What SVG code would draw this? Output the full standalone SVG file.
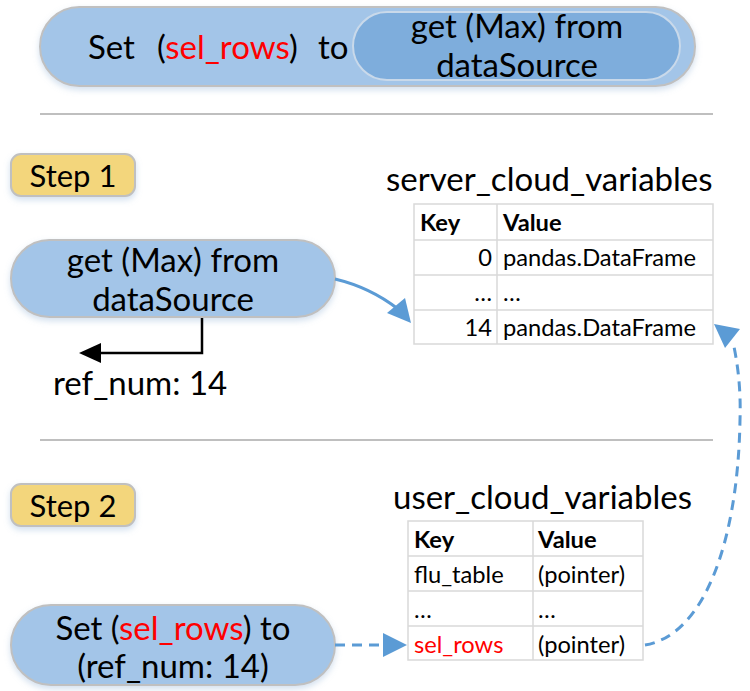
<svg xmlns="http://www.w3.org/2000/svg" width="750" height="691" viewBox="0 0 750 691">
<defs>
<style>
.t{font-family:Lato,"Liberation Sans",sans-serif;fill:#000}
.big{font-size:33px}
.pill{fill:#a3c5e8;stroke:#c0c0c0;stroke-width:2}
.step{fill:#f3d67c;stroke:#c0c0c0;stroke-width:2}
.sep{stroke:#bfbfbf;stroke-width:2}
.grid{fill:#fff;stroke:#d9d9d9;stroke-width:1.5}
.red{fill:#ff0000}
.blue{stroke:#5b9bd5;stroke-width:3;fill:none}
.dash{stroke-dasharray:10,7}
.tb{font-size:23.7px}
.st{font-size:31px}
</style>
<filter id="sh" x="-10%" y="-20%" width="120%" height="150%">
<feDropShadow dx="0" dy="3" stdDeviation="3" flood-color="#7fa6d0" flood-opacity="0.35"/>
</filter>
</defs>
<rect width="750" height="691" fill="#fff"/>

<g id="top-node">
<rect class="pill" x="40" y="7" width="655" height="79" rx="39.5" filter="url(#sh)"/>
<rect x="353" y="12" width="327" height="68" rx="34" fill="#7eaddc" stroke="#c9d9ea" stroke-width="2"/>
<text class="t big" x="88" y="59">Set</text>
<text class="t big" x="157" y="59">(<tspan class="red">sel_rows</tspan>)</text>
<text class="t big" x="318" y="59">to</text>
<text class="t big" x="517" y="38" text-anchor="middle">get (Max) from</text>
<text class="t big" x="517" y="77" text-anchor="middle">dataSource</text>
</g>

<line class="sep" x1="40" y1="114" x2="713" y2="114"/>
<line class="sep" x1="40" y1="440" x2="713" y2="440"/>

<g id="step1">
<rect class="step" x="11" y="154" width="124" height="42" rx="10" filter="url(#sh)"/>
<text class="t st" x="73" y="187" text-anchor="middle">Step 1</text>
</g>

<g id="get-node">
<rect class="pill" x="11" y="240" width="324" height="77" rx="38.5" filter="url(#sh)"/>
<text class="t big" x="173" y="272" text-anchor="middle">get (Max) from</text>
<text class="t big" x="173" y="311" text-anchor="middle">dataSource</text>
</g>

<g id="ref-num">
<text class="t big" x="53" y="395">ref_num: 14</text>
</g>

<g id="server-table">
<text class="t big" x="386" y="191">server_cloud_variables</text>
<rect class="grid" x="414" y="204" width="299" height="140"/>
<line class="grid" x1="497" y1="204" x2="497" y2="344"/>
<line class="grid" x1="414" y1="240" x2="713" y2="240"/>
<line class="grid" x1="414" y1="275" x2="713" y2="275"/>
<line class="grid" x1="414" y1="310" x2="713" y2="310"/>
<text class="t tb" x="420" y="231" font-weight="bold">Key</text>
<text class="t tb" x="503" y="231" font-weight="bold">Value</text>
<text class="t tb" x="492" y="266" text-anchor="end">0</text>
<text class="t tb" x="503" y="266">pandas.DataFrame</text>
<text class="t tb" x="492" y="301" text-anchor="end">…</text>
<text class="t tb" x="503" y="301">…</text>
<text class="t tb" x="492" y="336" text-anchor="end">14</text>
<text class="t tb" x="503" y="336">pandas.DataFrame</text>
</g>

<g id="step2">
<rect class="step" x="11" y="484" width="124" height="42" rx="10" filter="url(#sh)"/>
<text class="t st" x="73" y="517" text-anchor="middle">Step 2</text>
</g>

<g id="user-table">
<text class="t big" x="393" y="509">user_cloud_variables</text>
<rect class="grid" x="408" y="521" width="235" height="139"/>
<line class="grid" x1="533" y1="521" x2="533" y2="660"/>
<line class="grid" x1="408" y1="556" x2="643" y2="556"/>
<line class="grid" x1="408" y1="591" x2="643" y2="591"/>
<line class="grid" x1="408" y1="626" x2="643" y2="626"/>
<text class="t tb" x="414" y="548" font-weight="bold">Key</text>
<text class="t tb" x="538" y="548" font-weight="bold">Value</text>
<text class="t tb" x="414" y="583">flu_table</text>
<text class="t tb" x="538" y="583">(pointer)</text>
<text class="t tb" x="414" y="618">…</text>
<text class="t tb" x="538" y="618">…</text>
<text class="t tb red" x="414" y="653">sel_rows</text>
<text class="t tb" x="538" y="653">(pointer)</text>
</g>

<g id="set-node">
<rect class="pill" x="11" y="605" width="324" height="80" rx="40" filter="url(#sh)"/>
<text class="t big" x="173" y="640" text-anchor="middle">Set (<tspan class="red">sel_rows</tspan>) to</text>
<text class="t big" x="173" y="678" text-anchor="middle">(ref_num: 14)</text>
</g>

<g id="connectors">
<polyline points="202,318 202,353 98,353" fill="none" stroke="#000" stroke-width="2.5"/>
<polygon points="79,353 101,343 101,363" fill="#000"/>
<path class="blue" d="M335,279 C360,285 380,295 398,309"/>
<polygon points="411,323 387,313 405,298" fill="#5b9bd5"/>
<line class="blue dash" x1="335" y1="645" x2="386" y2="645"/>
<polygon points="407,645 383,633 383,657" fill="#5b9bd5"/>
<path class="blue dash" d="M645,645 C705,635 738,540 740,420 C741,390 738,365 733,342"/>
<polygon points="714,324 740,329 725,348" fill="#5b9bd5"/>
</g>
</svg>
